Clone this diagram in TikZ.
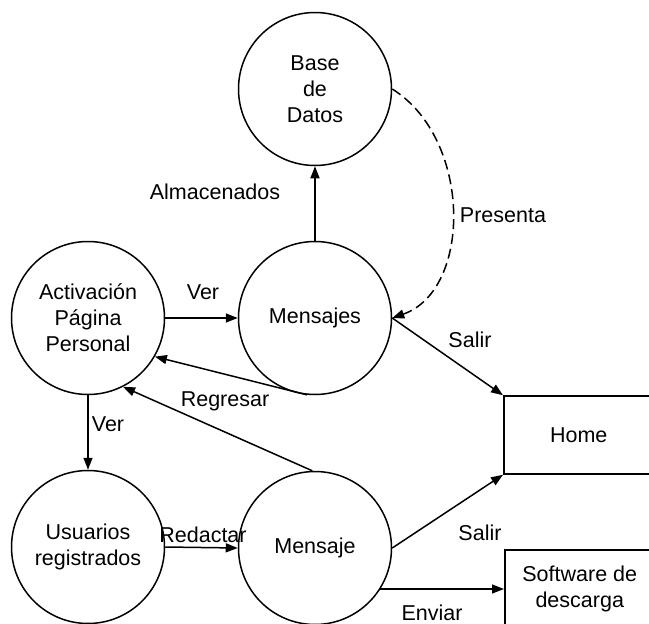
\documentclass[tikz,border=0pt]{standalone}
\usepackage{fontspec}
\setmainfont{Liberation Sans}
\usetikzlibrary{arrows.meta}
\begin{document}
\begin{tikzpicture}[x=1pt,y=-1pt,
  every node/.style={font=\fontsize{21.5}{26}\selectfont},
  proc/.style={draw,circle,line width=1.5pt,minimum size=153pt,inner sep=0pt,align=center},
  ext/.style={draw,rectangle,line width=1.5pt,inner sep=0pt,align=center},
  flow/.style={line width=1.5pt,-{Triangle[length=12pt,width=9pt]}},
  lbl/.style={inner sep=1pt}]
\useasboundingbox (0,0) rectangle (649,624);
\clip (0,0) rectangle (649,624);
\node[proc] (bd) at (315,89) {Base\\de\\Datos};
\node[proc] (msjs) at (315,318) {Mensajes};
\node[proc] (act) at (88,318) {Activación\\Página\\Personal};
\node[proc] (usr) at (88,547) {Usuarios\\registrados};
\node[proc] (msj) at (315,548) {Mensaje};
\node[ext,anchor=west,minimum width=150pt,minimum height=78pt] (home) at (503,435) {Home};
\node[ext,anchor=north west,minimum width=150pt,minimum height=78pt] (sw) at (504,549) {Software de\\descarga};

\draw[flow] (act.east) -- (msjs.west);
\draw[flow] (msjs.north) -- (bd.south);
\draw[flow,dash pattern=on 10pt off 5pt] (bd.east) .. controls +(80,50) and +(80,-28) .. (msjs.east);
\draw[flow] (msjs.-96) -- (act.-30);
\draw[flow] (msj.92) -- (act.-63);
\draw[flow] (act.south) -- (usr.north);
\draw[flow] (usr.east) -- (msj.west);
\draw[flow] (msjs.east) -- (home.north west);
\draw[flow] (msj.east) -- (home.south west);
\coordinate (swin) at (sw.west |- 0,589);
\draw[flow] (msj.east |- swin) ++(-12,0) -- (swin);

\node[lbl] at (215,192) {Almacenados};
\node[lbl] at (203,292) {Ver};
\node[lbl] at (503,215) {Presenta};
\node[lbl] at (225,401) {Regresar};
\node[lbl] at (108,424) {Ver};
\node[lbl] at (203,535) {Redactar};
\node[lbl] at (470,340) {Salir};
\node[lbl] at (480,533) {Salir};
\node[lbl] at (432,613) {Enviar};
\end{tikzpicture}
\end{document}
